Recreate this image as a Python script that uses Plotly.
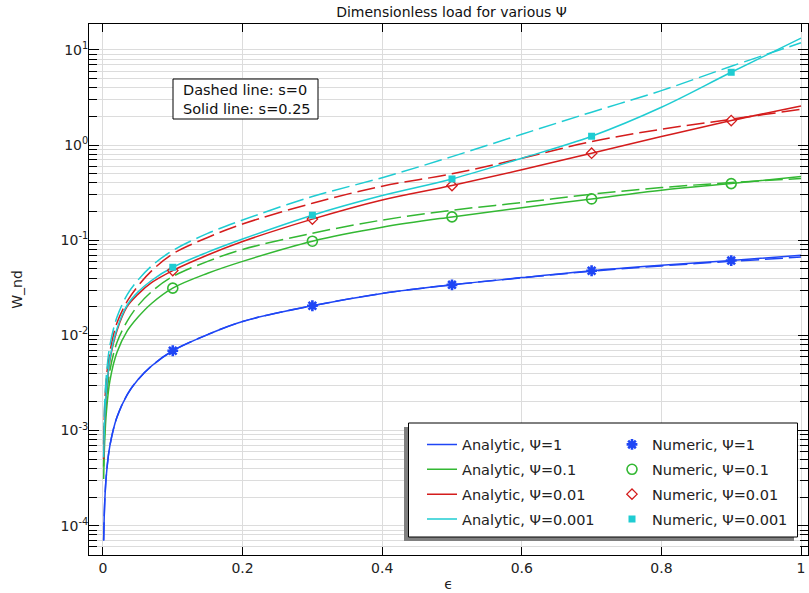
import plotly.graph_objects as go

# ---------------- data ----------------
eps = [0.001, 0.0025, 0.005, 0.01, 0.02, 0.035, 0.05, 0.07, 0.1, 0.15,
       0.2, 0.3, 0.4, 0.5, 0.6, 0.7, 0.8, 0.9, 1.0]

# Analytic, solid line (s = 0.25)
psi1_s025 = [7.0e-5, 1.75e-4, 3.5e-4, 7.0e-4, 1.38e-3, 2.4e-3, 3.42e-3, 4.8e-3, 6.9e-3, 0.0102,
             0.0140, 0.0205, 0.0276, 0.0340, 0.0405, 0.0478, 0.0545, 0.0612, 0.0695]
psi01_s025 = [3.1e-4, 7.8e-4, 1.6e-3, 3.35e-3, 6.6e-3, 0.0112, 0.0155, 0.0218, 0.0314, 0.045,
              0.060, 0.0978, 0.137, 0.176, 0.220, 0.272, 0.336, 0.394, 0.467]
psi001_s025 = [5.0e-4, 1.25e-3, 2.5e-3, 5.5e-3, 1.12e-2, 0.0203, 0.0270, 0.0360, 0.048, 0.070,
               0.097, 0.1668, 0.265, 0.376, 0.55, 0.822, 1.23, 1.81, 2.58]
psi0001_s025 = [5.2e-4, 1.3e-3, 2.6e-3, 5.7e-3, 0.0117, 0.0210, 0.0285, 0.0380, 0.052, 0.075,
                0.103, 0.1835, 0.295, 0.441, 0.728, 1.24, 2.5, 5.83, 13.3]

# Analytic, dashed line (s = 0)
psi1_s0 = [7.0e-5, 1.75e-4, 3.5e-4, 7.0e-4, 1.38e-3, 2.4e-3, 3.42e-3, 4.8e-3, 6.9e-3, 0.0102,
           0.0140, 0.0205, 0.0276, 0.0340, 0.0403, 0.0472, 0.0538, 0.0600, 0.0665]
psi01_s0 = [4.2e-4, 1.05e-3, 2.1e-3, 4.3e-3, 8.4e-3, 0.0142, 0.0205, 0.0290, 0.0416, 0.060,
            0.080, 0.1186, 0.163, 0.207, 0.249, 0.305, 0.358, 0.404, 0.445]
psi001_s0 = [7.2e-4, 1.8e-3, 3.6e-3, 6.8e-3, 0.0135, 0.0230, 0.0330, 0.0480, 0.072, 0.107,
             0.148, 0.245, 0.37, 0.499, 0.727, 1.09, 1.47, 1.87, 2.38]
psi0001_s0 = [7.8e-4, 1.95e-3, 3.9e-3, 7.9e-3, 0.0155, 0.027, 0.038, 0.054, 0.078, 0.118,
              0.163, 0.288, 0.455, 0.757, 1.30, 2.22, 3.74, 6.74, 11.9]

# Numeric results
eps_num = [0.1, 0.3, 0.5, 0.7, 0.9]
num_psi1 = [6.9e-3, 0.0205, 0.034, 0.0478, 0.0612]
num_psi01 = [0.0314, 0.0978, 0.176, 0.272, 0.394]
num_psi001 = [0.048, 0.1668, 0.376, 0.822, 1.81]
num_psi0001 = [0.052, 0.1835, 0.441, 1.24, 5.83]

psi_labels = ["1", "0.1", "0.01", "0.001"]
colors = ["#1f46f5", "#33b833", "#d41c1c", "#1fccd2"]

# y-axis tick labels
y_exponents = [-4, -3, -2, -1, 0, 1]

solid_series = [psi1_s025, psi01_s025, psi001_s025, psi0001_s025]
dashed_series = [psi1_s0, psi01_s0, psi001_s0, psi0001_s0]
num_series = [num_psi1, num_psi01, num_psi001, num_psi0001]
num_symbols = ["asterisk-open", "circle-open", "diamond-open", "square"]
num_sizes = [9, 10, 8, 7]
num_lw = [2.6, 1.6, 1.3, 0]

FONT = "DejaVu Sans"

fig = go.Figure()

for lab, col, ys in zip(psi_labels, colors, dashed_series):
    fig.add_trace(go.Scatter(
        x=eps, y=ys, mode="lines", line=dict(color=col, width=1.5, dash="18px,6px", shape="spline"),
        showlegend=False, legendgroup="a" + lab, hoverinfo="skip"))

for lab, col, ys in zip(psi_labels, colors, solid_series):
    fig.add_trace(go.Scatter(
        x=eps, y=ys, mode="lines", line=dict(color=col, width=1.5, shape="spline"),
        name="Analytic, \u03a8=" + lab, legend="legend", legendgroup="a" + lab))

for lab, col, ys, sym, sz, lw in zip(psi_labels, colors, num_series, num_symbols, num_sizes, num_lw):
    fig.add_trace(go.Scatter(
        x=eps_num, y=ys, mode="markers",
        marker=dict(symbol=sym, size=sz, color=col, line=dict(color=col, width=lw)),
        name="Numeric, \u03a8=" + lab, legend="legend2", legendgroup="n" + lab))

L, R, T, B = 89, 1, 24, 38
W, H = 809, 593
pw, ph = W - L - R, H - T - B


def px_x(px):
    return (px - L) / pw


def px_y(py):
    return (H - B - py) / ph


major_vals = [10.0 ** k for k in y_exponents]
major_text = ["10<sup>%d</sup>" % k for k in y_exponents]
minor_vals = [m * 10.0 ** k for k in range(-5, 2) for m in range(2, 10)]

grid = "#dcdcdc"
fig.update_layout(
    width=W, height=H, autosize=False,
    margin=dict(l=L, r=R, t=T, b=B, pad=0),
    paper_bgcolor="white", plot_bgcolor="white",
    font=dict(family=FONT, size=13, color="#222222"),
    title=dict(text="Dimensionless load for various \u03a8", xref="paper", x=px_x(451.5),
               xanchor="center", yref="container", y=1 - 12 / H, yanchor="middle",
               font=dict(size=14, color="#111111")),
    xaxis=dict(range=[-0.02, 1.01], dtick=0.2, tick0=0, showgrid=True, gridcolor=grid, gridwidth=1,
               zeroline=False, showline=True, linecolor="black", linewidth=1, mirror="ticks",
               ticks="inside", ticklen=8, tickcolor="black", automargin=False,
               title=dict(text="\u03f5", font=dict(size=14), standoff=4),
               tickfont=dict(size=14)),
    yaxis=dict(type="log", range=[-4.308, 1.273], tickmode="array", tickvals=major_vals,
               ticktext=major_text, ticklabelstandoff=-3,
               showgrid=True, gridcolor=grid, gridwidth=1, zeroline=False,
               showline=True, linecolor="black", linewidth=1, mirror="ticks",
               ticks="inside", ticklen=10, tickcolor="black", automargin=False,
               minor=dict(tickmode="array", tickvals=minor_vals, ticks="inside", ticklen=8,
                          tickcolor="black", showgrid=True, gridcolor=grid, gridwidth=1),
               title=dict(text="W_nd", font=dict(size=14), standoff=34),
               tickfont=dict(size=14)),
    legend=dict(x=px_x(422), y=px_y(428.5), xanchor="left", yanchor="top",
                bgcolor="rgba(0,0,0,0)", borderwidth=0, font=dict(size=14.5),
                traceorder="grouped", tracegroupgap=3, itemwidth=30),
    legend2=dict(x=px_x(612), y=px_y(428.5), xanchor="left", yanchor="top",
                 bgcolor="rgba(0,0,0,0)", borderwidth=0, font=dict(size=14.5),
                 traceorder="grouped", tracegroupgap=3, itemwidth=30),
    shapes=[
        # legend shadow and frame
        dict(type="rect", xref="paper", yref="paper", layer="above",
             x0=px_x(404), x1=px_x(794), y0=px_y(541), y1=px_y(427),
             fillcolor="#808080", line=dict(width=0)),
        dict(type="rect", xref="paper", yref="paper", layer="above",
             x0=px_x(408.5), x1=px_x(797.5), y0=px_y(537), y1=px_y(423),
             fillcolor="white", line=dict(color="black", width=1)),
        # note frame
        dict(type="rect", xref="paper", yref="paper", layer="above",
             x0=px_x(173), x1=px_x(318), y0=px_y(119), y1=px_y(79),
             fillcolor="white", line=dict(color="black", width=1)),
    ],
    annotations=[
        dict(text="Dashed line: s=0<br>Solid line: s=0.25", xref="paper", yref="paper",
             x=px_x(182), y=px_y(99), xanchor="left", yanchor="middle", align="left",
             showarrow=False, font=dict(size=14.5, color="#111111"), borderpad=0),
    ],
)

fig.write_html("out.html", config={"displayModeBar": False},
               post_script="document.body.style.margin='0';")
